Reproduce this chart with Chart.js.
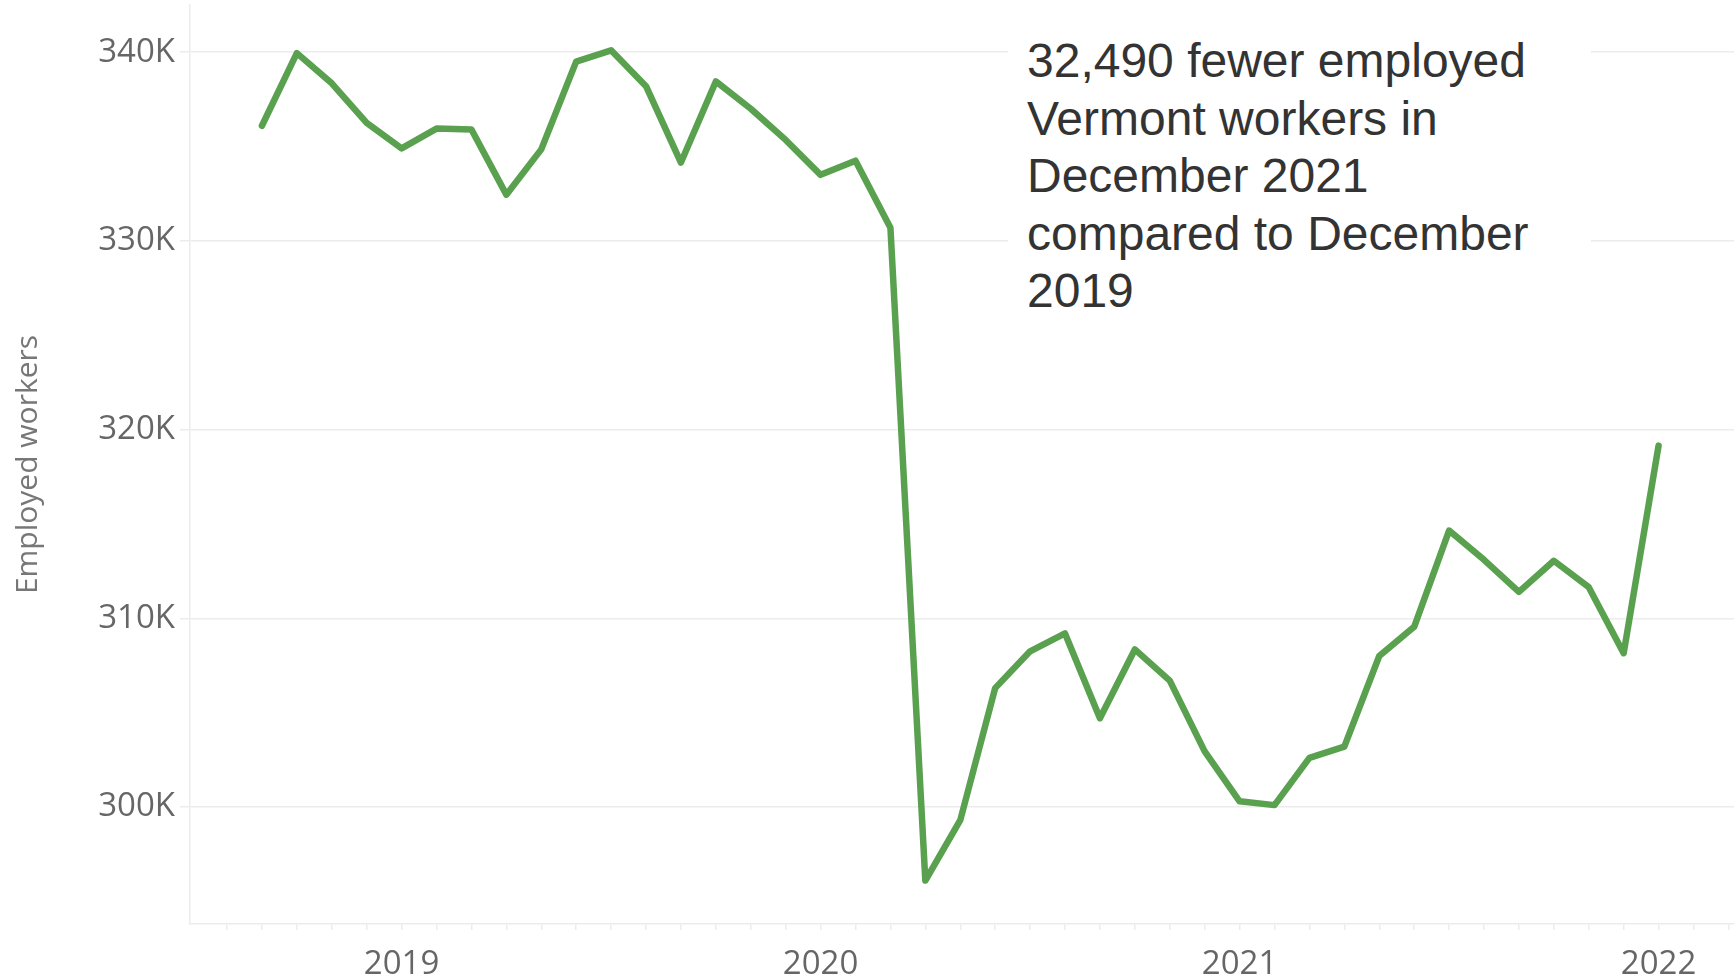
<!DOCTYPE html>
<html>
<head>
<meta charset="utf-8">
<title>Employed workers in Vermont</title>
<script src="https://cdn.jsdelivr.net/npm/chart.js@4.4.1/dist/chart.umd.min.js"></script>
<style>
    html, body { margin: 0; padding: 0; background: #fff; }
    #wrap { position: relative; width: 1736px; height: 977px; }
    #note {
        position: absolute;
        left: 1008px;
        top: 22px;
        width: 564px;
        padding: 10px 0 10px 19px;
        background: #fff;
        font-family: "Liberation Sans", Arial, sans-serif;
        font-size: 48px;
        line-height: 57.6px;
        color: #333;
    }
</style>
</head>
<body>
<div id="wrap">
    <canvas id="employedChart" width="1736" height="977"></canvas>
    <div id="note">32,490 fewer employed<br>Vermont workers in<br>December 2021<br>compared to December<br>2019</div>
</div>
<script>
// Monthly employed workers
const months = [
    '2018-09', '2018-10', '2018-11', '2018-12',
    '2019-01', '2019-02', '2019-03', '2019-04', '2019-05', '2019-06',
    '2019-07', '2019-08', '2019-09', '2019-10', '2019-11', '2019-12',
    '2020-01', '2020-02', '2020-03', '2020-04', '2020-05', '2020-06',
    '2020-07', '2020-08', '2020-09', '2020-10', '2020-11', '2020-12',
    '2021-01', '2021-02', '2021-03', '2021-04', '2021-05', '2021-06',
    '2021-07', '2021-08', '2021-09', '2021-10', '2021-11', '2021-12',
    '2022-01'
];
const employed = [
    336100, 339950, 338350, 336250,
    334900, 335950, 335900, 332450, 334850, 339500,
    340100, 338200, 334150, 338450, 337000, 335350,
    333500, 334250, 330700, 296100, 299300, 306300,
    308250, 309200, 304700, 308350, 306700, 302950,
    300300, 300100, 302600, 303200, 308000, 309550,
    314650, 313100, 311400, 313050, 311650, 308150,
    319150
];

// Axis ticks
const yearLabels = ['2019', '2020', '2021', '2022'];
const yearMonths = ['2019-01', '2020-01', '2021-01', '2022-01'];
const yTicks = [300000, 310000, 320000, 330000, 340000];

const axisFont = { family: '"Open Sans", sans-serif', size: 33 };
const axisColor = '#666666';
const gridColor = '#ececec';

document.addEventListener('DOMContentLoaded', function() {
    const ctx = document.getElementById('employedChart');

    new Chart(ctx, {
        type: 'line',
        data: {
            datasets: [{
                label: 'Employed workers',
                data: employed.map((v, i) => ({ x: i, y: v })),
                borderColor: '#59a14f',
                borderWidth: 6.5,
                borderJoinStyle: 'round',
                borderCapStyle: 'round',
                pointRadius: 0,
                tension: 0,
                fill: false
            }]
        },
        options: {
            responsive: false,
            animation: false,
            layout: { padding: { top: 5, right: 2, left: 0, bottom: 0 } },
            plugins: {
                legend: { display: false },
                tooltip: { enabled: false }
            },
            scales: {
                x: {
                    type: 'linear',
                    min: -2.06,
                    max: 42.16,
                    afterFit: scale => {
                        scale.height = 53;
                        scale.paddingLeft = 0;
                        scale.paddingRight = 0;
                    },
                    afterBuildTicks: scale => {
                        const ticks = [];
                        for (let i = -1; i <= 42; i++) ticks.push({ value: i });
                        scale.ticks = ticks;
                    },
                    grid: {
                        drawOnChartArea: false,
                        tickLength: 6,
                        color: gridColor,
                        lineWidth: 1.5
                    },
                    border: { color: gridColor, width: 1.5 },
                    ticks: {
                        autoSkip: false,
                        maxRotation: 0,
                        padding: 15,
                        color: axisColor,
                        font: axisFont,
                        callback: value => {
                            const k = yearMonths.indexOf(months[value]);
                            return k >= 0 ? yearLabels[k] : '';
                        }
                    }
                },
                y: {
                    min: 293800,
                    max: 342500,
                    afterFit: scale => {
                        scale.width = 190;
                        scale.paddingTop = 0;
                        scale.paddingBottom = 0;
                    },
                    afterBuildTicks: scale => {
                        scale.ticks = yTicks.map(v => ({ value: v }));
                    },
                    grid: {
                        color: gridColor,
                        lineWidth: 1.5,
                        tickLength: 10
                    },
                    border: { color: gridColor, width: 1.5 },
                    ticks: {
                        padding: 5,
                        color: axisColor,
                        font: axisFont,
                        callback: value => (value / 1000) + 'K'
                    },
                    title: {
                        display: true,
                        text: 'Employed workers',
                        color: '#777777',
                        font: { family: '"Open Sans", sans-serif', size: 30 },
                        padding: { top: 10, bottom: 0 }
                    }
                }
            }
        }
    });
});
</script>
</body>
</html>
